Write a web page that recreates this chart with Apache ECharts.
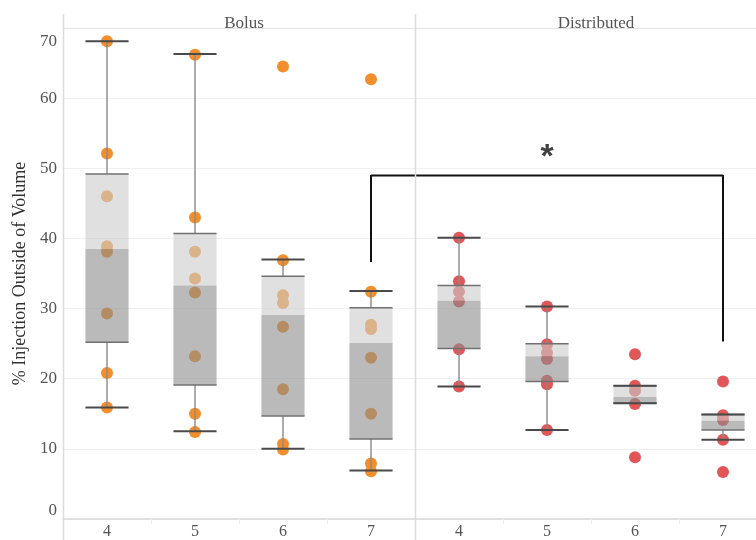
<!DOCTYPE html>
<html>
<head>
<meta charset="utf-8">
<script src="https://cdn.jsdelivr.net/npm/echarts@6/dist/echarts.min.js"></script>
<style>html,body{margin:0;padding:0;background:#fff;overflow:hidden;width:756px;height:540px}#c{width:780px;height:540px}</style>
</head>
<body>
<div id="c"></div>
<script>
// ---- data ----
var categories = ['4', '5', '6', '7'];
var panels = ['Bolus', 'Distributed'];
var yTicks = [0, 10, 20, 30, 40, 50, 60, 70];

// individual observations (% injection outside of volume)
var bolusPoints = [
  [68.1, 52.1, 46.0, 38.9, 38.1, 29.3, 20.8, 15.9],
  [66.2, 43.0, 38.1, 34.3, 32.3, 23.2, 15.0, 12.4],
  [64.5, 36.9, 31.9, 30.8, 27.4, 18.5, 10.7, 9.9],
  [62.7, 32.4, 27.7, 27.1, 23.0, 15.0, 7.9, 6.8]
];
var distributedPoints = [
  [40.1, 33.9, 32.4, 31.0, 24.2, 18.9],
  [30.3, 24.9, 23.7, 22.8, 19.7, 19.2, 12.7],
  [23.5, 19.0, 18.3, 16.4, 8.8],
  [19.6, 14.8, 14.1, 11.3, 6.7]
];
// box plot statistics: [lower whisker, Q1, median, Q3, upper whisker]
var bolusBoxes = [
  [15.9, 25.2, 38.5, 49.2, 68.1],
  [12.5, 19.1, 33.3, 40.7, 66.3],
  [10.0, 14.7, 29.1, 34.6, 37.0],
  [6.9, 11.4, 25.1, 30.1, 32.5]
];
var distributedBoxes = [
  [18.9, 24.3, 31.1, 33.3, 40.1],
  [12.7, 19.6, 23.2, 25.0, 30.3],
  [16.5, 16.5, 17.4, 19.0, 19.0],
  [11.3, 12.7, 14.0, 14.9, 14.9]
];
// significance bracket across all 8 columns (column index, value)
var bracketX = [3, 3, 7, 7];
var bracketY = [36.7, 49.0, 49.0, 25.4];
var starPos = [5, 51.6];
var starText = '*';

// ---- chart ----
var FONT = 'Liberation Serif';
var chart = echarts.init(document.getElementById('c'), null, {renderer: 'canvas'});

function pointData(groups) {
  var out = [];
  groups.forEach(function (g, i) { g.forEach(function (v) { out.push([i, v]); }); });
  return out;
}
function boxData(boxes) {
  return boxes.map(function (b, i) { return [i].concat(b); });
}
function renderBox(params, api) {
  var x = api.value(0);
  var lo = api.coord([x, api.value(1)]);
  var q1 = api.coord([x, api.value(2)]);
  var md = api.coord([x, api.value(3)]);
  var q3 = api.coord([x, api.value(4)]);
  var hi = api.coord([x, api.value(5)]);
  var w = api.size([1, 0])[0] * 0.49;
  var cx = lo[0], l = cx - w / 2, r = cx + w / 2;
  var kids = [];
  kids.push({type: 'line', shape: {x1: cx, y1: hi[1], x2: cx, y2: q3[1]}, style: {stroke: '#8a8a8a', lineWidth: 1.4}});
  kids.push({type: 'line', shape: {x1: cx, y1: q1[1], x2: cx, y2: lo[1]}, style: {stroke: '#8a8a8a', lineWidth: 1.4}});
  kids.push({type: 'rect', shape: {x: l, y: q3[1], width: w, height: md[1] - q3[1]}, style: {fill: 'rgba(203,203,203,0.6)'}});
  kids.push({type: 'rect', shape: {x: l, y: md[1], width: w, height: q1[1] - md[1]}, style: {fill: 'rgba(140,140,140,0.6)'}});
  kids.push({type: 'line', shape: {x1: l, y1: q3[1], x2: r, y2: q3[1]}, style: {stroke: '#707070', lineWidth: 1.5}});
  kids.push({type: 'line', shape: {x1: l, y1: q1[1], x2: r, y2: q1[1]}, style: {stroke: '#707070', lineWidth: 1.5}});
  kids.push({type: 'line', shape: {x1: l, y1: hi[1], x2: r, y2: hi[1]}, style: {stroke: '#4a4a4a', lineWidth: 2}});
  kids.push({type: 'line', shape: {x1: l, y1: lo[1], x2: r, y2: lo[1]}, style: {stroke: '#4a4a4a', lineWidth: 2}});
  return {type: 'group', children: kids};
}

var gridTop = 28, gridH = 492;
var splitColors = yTicks.map(function (t) { return t === 70 ? '#e2e2e2' : '#f0f0f0'; });

function xAx(idx) {
  return {
    type: 'category', gridIndex: idx, data: categories,
    axisLine: {show: true, lineStyle: {color: '#d9d9d9', width: 1.5}},
    axisTick: {show: true, length: 5, lineStyle: {color: '#ececec'}},
    axisLabel: {fontFamily: FONT, fontSize: 16, color: '#555', margin: 5},
    splitLine: {show: false}
  };
}
function yAx(idx, showLabels) {
  return {
    type: 'value', gridIndex: idx, min: 0, max: 70, interval: 10,
    axisLine: {show: false}, axisTick: {show: false},
    splitLine: {show: true, lineStyle: {color: splitColors, width: 1.2}},
    axisLabel: {
      show: showLabels, fontFamily: FONT, fontSize: 17, color: '#555', margin: 6,
      formatter: function (v) {
        if (v === 70) return '{top|70}';
        if (v === 0) return '{bot|0}';
        return String(v);
      },
      rich: {
        top: {fontFamily: FONT, fontSize: 17, color: '#555', padding: [28, 0, 0, 0]},
        bot: {fontFamily: FONT, fontSize: 17, color: '#555', padding: [0, 0, 16, 0]}
      }
    },
    name: showLabels ? '% Injection Outside of Volume' : '',
    nameLocation: 'middle', nameGap: 34, nameRotate: 90,
    nameTextStyle: {fontFamily: FONT, fontSize: 18, color: '#333'}
  };
}

var option = {
  animation: false,
  backgroundColor: '#ffffff',
  title: [
    {text: panels[0], left: 239, top: 10, textAlign: 'center', textStyle: {fontFamily: FONT, fontSize: 17, fontWeight: 'normal', color: '#555'}},
    {text: panels[1], left: 591, top: 10, textAlign: 'center', textStyle: {fontFamily: FONT, fontSize: 17, fontWeight: 'normal', color: '#555'}}
  ],
  grid: [
    {left: 63, top: gridTop, width: 352, height: gridH},
    {left: 415, top: gridTop, width: 352, height: gridH},
    {left: 63, top: gridTop, width: 704, height: gridH}
  ],
  xAxis: [
    xAx(0), xAx(1),
    {type: 'value', gridIndex: 2, min: -0.5, max: 7.5, show: false}
  ],
  yAxis: [
    yAx(0, true), yAx(1, false),
    {type: 'value', gridIndex: 2, min: 0, max: 70, show: false}
  ],
  graphic: [
    {type: 'line', z: 10, shape: {x1: 63.5, y1: 14, x2: 63.5, y2: 540}, style: {stroke: '#dcdcdc', lineWidth: 1.5}},
    {type: 'line', z: 10, shape: {x1: 415.5, y1: 14, x2: 415.5, y2: 540}, style: {stroke: '#dcdcdc', lineWidth: 1.5}},
    {type: 'line', z: 10, shape: {x1: 767.5, y1: 14, x2: 767.5, y2: 540}, style: {stroke: '#dcdcdc', lineWidth: 1.5}}
  ],
  series: [
    {type: 'scatter', xAxisIndex: 0, yAxisIndex: 0, z: 2, symbolSize: 12,
     itemStyle: {color: '#f28e2b', opacity: 1}, data: pointData(bolusPoints)},
    {type: 'scatter', xAxisIndex: 1, yAxisIndex: 1, z: 2, symbolSize: 12,
     itemStyle: {color: '#e15759', opacity: 1}, data: pointData(distributedPoints)},
    {type: 'custom', xAxisIndex: 0, yAxisIndex: 0, z: 3, renderItem: renderBox, data: boxData(bolusBoxes)},
    {type: 'custom', xAxisIndex: 1, yAxisIndex: 1, z: 3, renderItem: renderBox, data: boxData(distributedBoxes)},
    {type: 'line', xAxisIndex: 2, yAxisIndex: 2, z: 4, symbol: 'none',
     lineStyle: {color: '#111', width: 2},
     data: bracketX.map(function (x, i) { return [x, bracketY[i]]; })},
    {type: 'scatter', xAxisIndex: 2, yAxisIndex: 2, z: 4, symbolSize: 1,
     itemStyle: {color: 'rgba(0,0,0,0)'},
     label: {show: true, position: 'inside', formatter: starText, fontFamily: 'Liberation Sans', fontWeight: 'bold', fontSize: 34, color: '#111'},
     data: [starPos]}
  ]
};
chart.setOption(option);
</script>
</body>
</html>
